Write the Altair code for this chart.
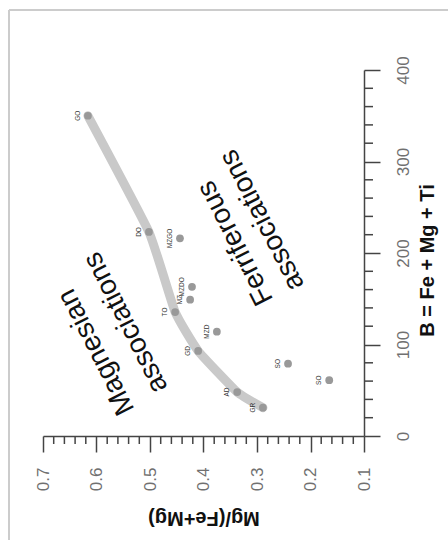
import altair as alt
import pandas as pd

# ---- data ----
names = ["GO", "DO", "MZGO", "MZDO", "MZ", "TO", "MZD", "GD", "SO", "AD", "SO", "GR"]
mg = [0.616, 0.502, 0.444, 0.4215, 0.425, 0.453, 0.375, 0.410, 0.242, 0.337, 0.165, 0.289]
bval = [350, 223, 216, 163, 149, 135.5, 114, 93, 79, 48, 61, 31]

curve_mg = [0.289, 0.337, 0.410, 0.453, 0.502, 0.616]
curve_b = [31, 48, 93, 135.5, 223, 350]

ann_text = ["Magnesian", "associations", "Ferriferous", "associations"]
ann_mg = [0.600, 0.545, 0.340, 0.290]
ann_b = [92, 124, 211, 236]

x_major = [0.7, 0.6, 0.5, 0.4, 0.3, 0.2, 0.1]
x_minor = [0.68, 0.66, 0.64, 0.62, 0.58, 0.56, 0.54, 0.52, 0.48, 0.46, 0.44, 0.42,
           0.38, 0.36, 0.34, 0.32, 0.28, 0.26, 0.24, 0.22, 0.18, 0.16, 0.14, 0.12]
y_major = [0, 100, 200, 300, 400]
y_minor = [20, 40, 60, 80, 120, 140, 160, 180, 220, 240, 260, 280, 320, 340, 360, 380]

FONT = "Liberation Sans"
AX = "#444444"

pts = pd.DataFrame({"name": names, "mg": mg, "b": bval})
curve = pd.DataFrame({"mg": curve_mg, "b": curve_b, "o": list(range(len(curve_mg)))})
ann = pd.DataFrame({"t": ann_text, "mg": ann_mg, "b": ann_b})
xmin = pd.DataFrame({"mg": x_minor})
ymin = pd.DataFrame({"b": y_minor})
one = pd.DataFrame({"a": [0]})

xs = alt.Scale(domain=[0.1, 0.7], reverse=True, nice=False, zero=False)
ys = alt.Scale(domain=[0, 400], nice=False, zero=False)

x_axis = alt.Axis(values=x_major, format=".1f", orient="bottom", grid=False,
                  tickSize=16, tickWidth=1.5, tickColor=AX,
                  domainColor=AX, domainWidth=1.5,
                  labelAngle=270, labelAlign="right", labelBaseline="middle",
                  labelPadding=15, labelFontSize=17, labelColor="#707070",
                  labelFont=FONT, labelFlush=False, labelOverlap=False,
                  title="Mg/(Fe+Mg)", titleAngle=180, titleX=160.5, titleY=81,
                  titleAlign="center", titleBaseline="middle",
                  titleFontSize=20, titleFontWeight="bold", titleFont=FONT,
                  titleColor="#111111")
y_axis = alt.Axis(values=y_major, format="d", orient="right", grid=False,
                  tickSize=16, tickWidth=1.5, tickColor=AX,
                  domainColor=AX, domainWidth=1.5,
                  labelAngle=270, labelAlign="center", labelBaseline="top",
                  labelPadding=15, labelFontSize=17, labelColor="#707070",
                  labelFont=FONT, labelFlush=False, labelOverlap=False,
                  title="B = Fe + Mg + Ti", titleAngle=270, titleX=63, titleY=190,
                  titleAlign="center", titleBaseline="middle",
                  titleFontSize=20, titleFontWeight="bold", titleFont=FONT,
                  titleColor="#111111")

X = alt.X("mg:Q", scale=xs, axis=x_axis)
Y = alt.Y("b:Q", scale=ys, axis=y_axis)

frame_top = alt.Chart(one).mark_rule(color="#cccccc", strokeWidth=2).encode(
    x=alt.value(-34), x2=alt.value(420), y=alt.value(-60))
frame_left = alt.Chart(one).mark_rule(color="#cccccc", strokeWidth=2).encode(
    x=alt.value(-34), y=alt.value(-60), y2=alt.value(480))

line = alt.Chart(curve).mark_line(color="#c9c9c9", strokeWidth=9, strokeCap="round",
                                  strokeJoin="round", interpolate="cardinal",
                                  tension=0.6).encode(
    x=X, y=Y, order="o:Q")
points = alt.Chart(pts).mark_circle(color="#999999", size=60, opacity=1).encode(x=X, y=Y)
labels = alt.Chart(pts).mark_text(angle=270, dy=-10, fontSize=6.5, color="#333333",
                                  align="center", baseline="middle", font=FONT).encode(
    x=X, y=Y, text="name:N")
annot = alt.Chart(ann).mark_text(angle=243, fontSize=28, color="#111111",
                                 align="center", baseline="middle", font=FONT).encode(
    x=X, y=Y, text="t:N")

xminor = alt.Chart(xmin).mark_rule(color=AX, strokeWidth=1.5).encode(
    x=X, y=alt.value(366), y2=alt.value(374))
yminor = alt.Chart(ymin).mark_rule(color=AX, strokeWidth=1.5).encode(
    y=Y, x=alt.value(321), x2=alt.value(330))

chart = alt.layer(frame_top, frame_left, line, points, labels, annot, xminor, yminor).properties(
    width=321, height=366,
    autosize=alt.AutoSizeParams(type="none"),
    padding={"left": 43, "top": 70, "right": 84, "bottom": 104},
    background="white",
).configure_view(stroke=None)

chart.save("out.html", embed_options={"renderer": "svg", "actions": False})
